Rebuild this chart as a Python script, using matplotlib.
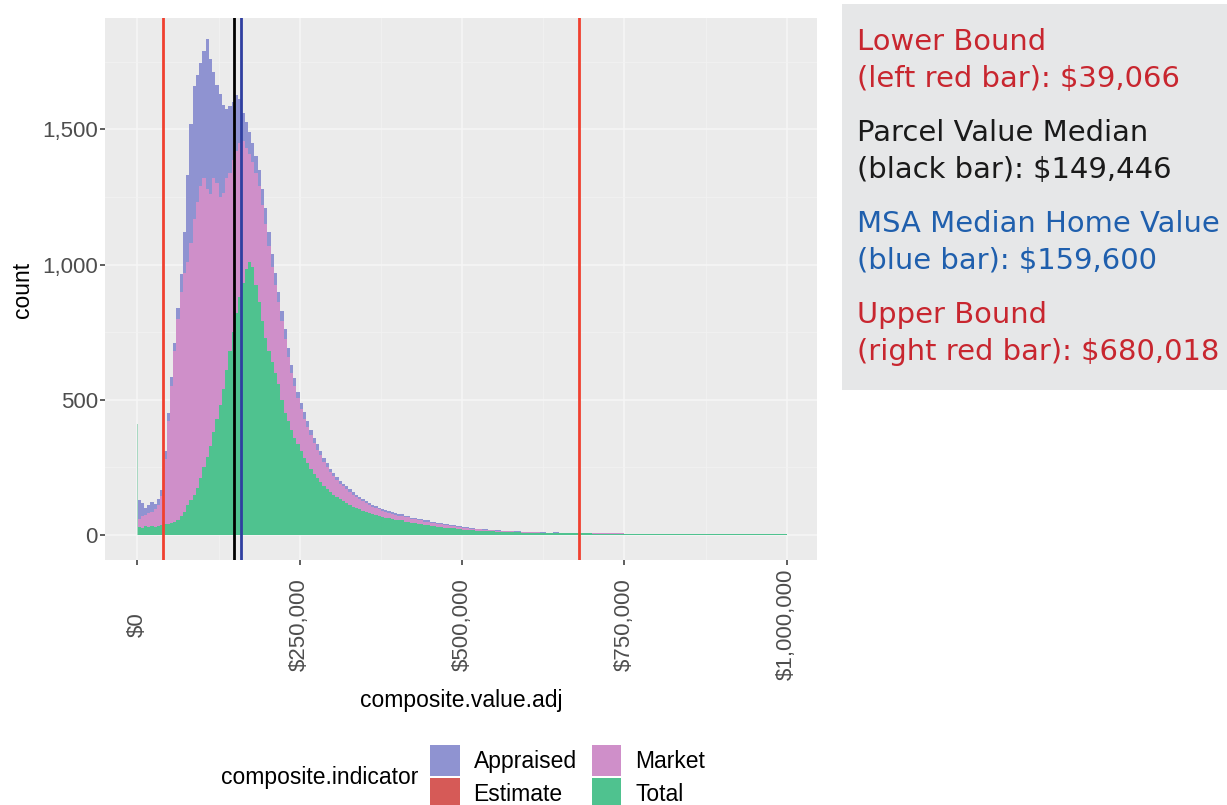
import numpy as np
import matplotlib.pyplot as plt
from matplotlib.patches import Patch, Rectangle

plt.rcParams['font.family'] = ['Liberation Sans', 'DejaVu Sans']

# bin edges in thousands of dollars: $5k bins up to $400k, $10k bins after
fine_edges = np.arange(0, 405, 5)
coarse_edges = np.arange(410, 1010, 10)

# stacked histogram counts per bin, one list per composite.indicator
total_counts = [
    30, 28, 32, 30, 33, 31, 35, 38, 40, 42,
    45, 48, 55, 70, 85, 110, 130, 150, 175, 210,
    250, 290, 330, 380, 430, 480, 540, 610, 680, 750,
    820, 880, 930, 985, 1010, 990, 925, 860, 790, 730,
    680, 640, 600, 560, 500, 450, 420, 390, 360, 335,
    310, 285, 265, 245, 225, 210, 195, 182, 170, 160,
    150, 141, 132, 125, 118, 111, 105, 100, 95, 90,
    86, 82, 78, 74, 71, 68, 65, 62, 60, 57,
    # $10k bins
    55, 50, 46, 42, 38, 35, 31, 28, 25, 22,
    20, 18, 17, 15, 14, 13, 12, 11, 10, 9,
    9, 8, 8, 7, 7, 7, 6, 6, 6, 6,
    5, 5, 5, 5, 5, 5, 5, 4, 4, 4,
    4, 4, 4, 4, 4, 4, 4, 4, 4, 4,
    4, 4, 3, 3, 3, 3, 3, 3, 3, 3,
]
market_counts = [
    30, 44, 42, 52, 53, 65, 77, 107, 240, 378,
    505, 632, 745, 830, 885, 900, 950, 1020, 1055, 1080,
    1070, 990, 930, 940, 870, 770, 725, 710, 660, 635,
    600, 570, 525, 445, 400, 390, 415, 430, 430, 420,
    390, 350, 325, 300, 290, 275, 240, 210, 190, 170,
    155, 145, 135, 125, 115, 105, 100, 88, 80, 72,
    68, 63, 58, 55, 52, 49, 45, 41, 37, 35,
    32, 29, 27, 26, 24, 22, 21, 20, 18, 18,
    # $10k bins
    17, 16, 14, 13, 12, 11, 10, 9, 8, 8,
    7, 6, 5, 5, 4, 3, 3, 3, 3, 3,
    2, 2, 1, 1, 2, 1, 2, 1, 1, 1,
    1, 1, 1, 1, 1, 0, 0, 0, 0, 0,
    0, 0, 0, 0, 0, 0, 0, 0, 0, 0,
    0, 0, 0, 0, 0, 0, 0, 0, 0, 0,
]
appraised_counts = [
    70, 46, 28, 30, 35, 18, 20, 20, 30, 30,
    35, 30, 40, 65, 150, 320, 440, 490, 470, 455,
    470, 555, 500, 390, 365, 380, 325, 255, 245, 215,
    205, 160, 105, 95, 80, 70, 60, 60, 60, 60,
    50, 50, 45, 40, 40, 35, 30, 30, 30, 25,
    25, 25, 20, 20, 20, 20, 15, 15, 15, 13,
    12, 11, 10, 10, 10, 9, 8, 8, 8, 7,
    7, 7, 7, 6, 5, 6, 6, 6, 6, 6,
    # $10k bins
    6, 5, 5, 4, 4, 4, 4, 3, 3, 3,
    3, 3, 2, 2, 2, 2, 2, 1, 1, 1,
    1, 1, 1, 1, 1, 1, 0, 1, 0, 1,
    0, 0, 0, 0, 0, 0, 0, 0, 0, 0,
    0, 0, 0, 0, 0, 0, 0, 0, 0, 0,
    0, 0, 0, 0, 0, 0, 0, 0, 0, 0,
]
zero_spike = 410  # parcels valued at exactly $0

indicators = ['Appraised', 'Estimate', 'Market', 'Total']
fill_colors = {'Appraised': '#8F93D1', 'Estimate': '#D65A57',
               'Market': '#CF8FC9', 'Total': '#4FC28F'}

# reference values shown as vertical bars
ref_titles = ['Lower Bound', 'Parcel Value Median', 'MSA Median Home Value', 'Upper Bound']
ref_notes = ['(left red bar)', '(black bar)', '(blue bar)', '(right red bar)']
ref_values = [39066, 149446, 159600, 680018]
ref_line_colors = ['#F0402F', '#000000', '#2F3FA0', '#F0402F']
ref_text_colors = ['#C8262F', '#1A1A1A', '#1F5FAD', '#C8262F']

x_ticks = [0, 250000, 500000, 750000, 1000000]
y_ticks = [0, 500, 1000, 1500]

W, H = 1227, 805
fig = plt.figure(figsize=(W / 100, H / 100), dpi=100)
ax = fig.add_axes([105 / W, 1 - 560 / H, 712 / W, 542 / H])
ax.set_facecolor('#EBEBEB')

edges = np.concatenate([fine_edges, coarse_edges]) * 1000.0
base = np.zeros(len(edges) - 1)
for name, counts in [('Total', total_counts), ('Market', market_counts),
                     ('Appraised', appraised_counts)]:
    top = base + np.array(counts, dtype=float)
    ax.stairs(top, edges, baseline=base, fill=True, color=fill_colors[name], lw=0)
    base = top
ax.bar(0, zero_spike, width=1300, color='#A9D8C2', lw=0)

for v, c in zip(ref_values, ref_line_colors):
    ax.axvline(v, color=c, lw=2)

ax.set_xlim(-49900, 1046600)
ax.set_ylim(-92, 1911)

ax.set_xticks(x_ticks)
ax.set_xticks([125000, 375000, 625000, 875000], minor=True)
ax.set_yticks(y_ticks)
ax.set_yticks([250, 750, 1250, 1750], minor=True)
ax.set_xticklabels([f'${v:,}' for v in x_ticks], rotation=90, va='center', ha='center')
ax.set_yticklabels([f'{v:,}' for v in y_ticks])
ax.grid(which='major', color='#F6F6F6', lw=1.1)
ax.grid(which='minor', color='#F2F2F2', lw=0.6)
ax.set_axisbelow(True)
for s in ax.spines.values():
    s.set_visible(False)
ax.tick_params(which='major', length=3.6, width=1.1, color='#333333',
               labelcolor='#4D4D4D', labelsize=16)
ax.tick_params(axis='x', pad=43)
ax.tick_params(axis='y', pad=1.5)
ax.tick_params(which='minor', length=0)

fig.text(461 / W, 1 - 700 / H, 'composite.value.adj', fontsize=16.5,
         ha='center', va='center')
fig.text(22 / W, 1 - 290 / H, 'count', fontsize=16.5, rotation=90,
         ha='center', va='center')

# legend along the bottom
handles = [Patch(facecolor=fill_colors[n], edgecolor='none') for n in indicators]
fig.legend(handles, indicators, ncol=2, loc='center left',
           bbox_to_anchor=(430 / W, 1 - 777 / H), frameon=False, fontsize=16.5,
           handlelength=1.3, handleheight=1.7, handletextpad=0.6,
           columnspacing=0.65, labelspacing=0.1, borderpad=0, borderaxespad=0)
fig.text(418 / W, 1 - 777 / H, 'composite.indicator', fontsize=16.5,
         ha='right', va='center')

# grey note box with the reference values
fig.add_artist(Rectangle((842 / W, 1 - 390 / H), (W - 842) / W, 386 / H,
                         transform=fig.transFigure, color='#E6E7E8', lw=0))
for i, (title, note, v, c) in enumerate(zip(ref_titles, ref_notes, ref_values,
                                            ref_text_colors)):
    y0 = 50 + i * 91
    fig.text(857 / W, 1 - y0 / H, title, color=c, fontsize=20.9,
             family='DejaVu Sans', va='baseline')
    fig.text(857 / W, 1 - (y0 + 37) / H, f'{note}: ${v:,}', color=c, fontsize=20.9,
             family='DejaVu Sans', va='baseline')

fig.savefig('out.png', dpi=100)
